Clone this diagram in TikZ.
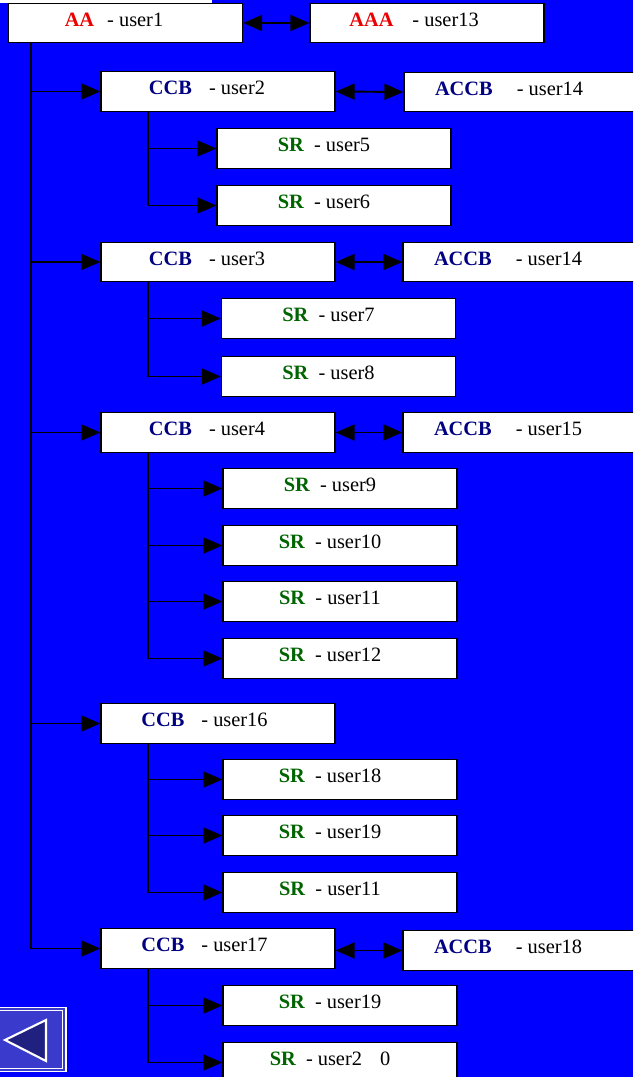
\documentclass[tikz,border=0pt]{standalone}
\usepackage{fontspec}
\setmainfont{Liberation Serif}
\usetikzlibrary{arrows.meta}
\definecolor{bg}{RGB}{0,0,255}
\definecolor{aared}{RGB}{235,0,0}
\definecolor{navy}{RGB}{0,0,128}
\definecolor{srgreen}{RGB}{0,100,0}
\definecolor{btnfill}{RGB}{58,58,204}
\definecolor{btntri}{RGB}{32,32,128}
\newcommand\boxlbl[3]{\textcolor{#1}{\textbf{#2}}\hspace{#3}}
\newcommand\padr[1]{\rule{#1}{0pt}}
\begin{document}
\begin{tikzpicture}[x=0.02cm,y=-0.02cm,
  box/.style={draw=black, fill=white, line width=0.8pt, minimum width=4.68cm,
    minimum height=0.79cm, inner sep=0pt, font=\fontsize{11.6}{13}\selectfont,
    text height=0.26cm, text depth=0.13cm},
  conn/.style={line width=1.1pt, draw=black},
  arr/.style={conn, -{Triangle[length=0.38cm,width=0.32cm]}},
  darr/.style={conn, {Triangle[length=0.38cm,width=0.32cm]}-{Triangle[length=0.38cm,width=0.32cm]}}]
\useasboundingbox (0,0) rectangle (633,1077);
\clip (0,0) rectangle (633,1077);
\fill[bg] (0,0) rectangle (633,1077);
\fill[white] (0,0) rectangle (212,3);

% top level
\node[box] (aa)  at (125.5,23) {\boxlbl{aared}{AA}{0.26cm}- user1\padr{0.46cm}};
\node[box] (aaa) at (427,23)   {\boxlbl{aared}{AAA}{0.38cm}- user13\padr{0.52cm}};

% CCB user2 group
\node[box] (ccb2)   at (218,91.5)  {\boxlbl{navy}{CCB}{0.34cm}- user2\padr{0.44cm}};
\node[box] (accb2)  at (521,92)    {\boxlbl{navy}{ACCB}{0.48cm}- user14\padr{0.48cm}};
\node[box] (sr5)    at (334,148.5) {\boxlbl{srgreen}{SR}{0.2cm}- user5\padr{0.4cm}};
\node[box] (sr6)    at (334,205.5) {\boxlbl{srgreen}{SR}{0.2cm}- user6\padr{0.4cm}};

% CCB user3 group
\node[box] (ccb3)   at (218,262)   {\boxlbl{navy}{CCB}{0.34cm}- user3\padr{0.44cm}};
\node[box] (accb3)  at (520,262)   {\boxlbl{navy}{ACCB}{0.48cm}- user14\padr{0.48cm}};
\node[box] (sr7)    at (338.5,318.5) {\boxlbl{srgreen}{SR}{0.2cm}- user7\padr{0.4cm}};
\node[box] (sr8)    at (338.5,376.5) {\boxlbl{srgreen}{SR}{0.2cm}- user8\padr{0.4cm}};

% CCB user4 group
\node[box] (ccb4)   at (218,432.5) {\boxlbl{navy}{CCB}{0.34cm}- user4\padr{0.44cm}};
\node[box] (accb4)  at (520,432.5) {\boxlbl{navy}{ACCB}{0.48cm}- user15\padr{0.48cm}};
\node[box] (sr9)    at (340,488.5) {\boxlbl{srgreen}{SR}{0.2cm}- user9\padr{0.4cm}};
\node[box] (sr10)   at (340,545.5) {\boxlbl{srgreen}{SR}{0.2cm}- user10\padr{0.4cm}};
\node[box] (sr11)   at (340,601.5) {\boxlbl{srgreen}{SR}{0.2cm}- user11\padr{0.4cm}};
\node[box] (sr12)   at (340,658.5) {\boxlbl{srgreen}{SR}{0.2cm}- user12\padr{0.4cm}};

% CCB user16 group
\node[box] (ccb16)  at (218,723.5) {\boxlbl{navy}{CCB}{0.34cm}- user16\padr{0.54cm}};
\node[box] (sr18)   at (340,779.5) {\boxlbl{srgreen}{SR}{0.2cm}- user18\padr{0.4cm}};
\node[box] (sr19)   at (340,835.5) {\boxlbl{srgreen}{SR}{0.2cm}- user19\padr{0.4cm}};
\node[box] (sr11b)  at (340,892.5) {\boxlbl{srgreen}{SR}{0.2cm}- user11\padr{0.4cm}};

% CCB user17 group
\node[box] (ccb17)  at (218,948.5) {\boxlbl{navy}{CCB}{0.34cm}- user17\padr{0.54cm}};
\node[box] (accb17) at (520,950.5) {\boxlbl{navy}{ACCB}{0.48cm}- user18\padr{0.48cm}};
\node[box] (sr19b)  at (340,1005.5) {\boxlbl{srgreen}{SR}{0.2cm}- user19\padr{0.4cm}};
\node[box] (sr20)   at (340,1062.5) {\boxlbl{srgreen}{SR}{0.2cm}- user2\hspace{0.36cm}0\padr{0.4cm}};

% trunk lines
\coordinate (t) at (31,0);
\coordinate (s) at (148,0);
\draw[conn] (aa.south -| t) -- (ccb17.west -| t);
\foreach \c in {ccb2,ccb3,ccb4,ccb16,ccb17}
  \draw[arr] (\c.west -| t) -- (\c.west);

% double arrows
\draw[darr] (aa.east) -- (aaa.west);
\draw[darr] (ccb2.east) -- (accb2.west);
\draw[darr] (ccb3.east) -- (accb3.west);
\draw[darr] (ccb4.east) -- (accb4.west);
\draw[darr] (ccb17.east |- accb17.west) -- (accb17.west);

% sub trunks
\draw[conn] (ccb2.south -| s) -- (sr6.west -| s);
\draw[conn] (ccb3.south -| s) -- (sr8.west -| s);
\draw[conn] (ccb4.south -| s) -- (sr12.west -| s);
\draw[conn] (ccb16.south -| s) -- (sr11b.west -| s);
\draw[conn] (ccb17.south -| s) -- (sr20.west -| s);
\foreach \r in {sr5,sr6,sr7,sr8,sr9,sr10,sr11,sr12,sr18,sr19,sr11b,sr19b,sr20}
  \draw[arr] (\r.west -| s) -- (\r.west);

% back button
\fill[btnfill] (-2,1007) rectangle (66,1072);
\draw[white, line width=0.8pt] (-2,1007.5) rectangle (66,1071.5);
\draw[white, line width=0.8pt] (-2,1010.5) rectangle (62.5,1068.5);
\filldraw[fill=btntri, draw=white, line width=1.2pt, line join=miter] (5,1040) -- (46,1020) -- (46,1061) -- cycle;
\end{tikzpicture}
\end{document}
